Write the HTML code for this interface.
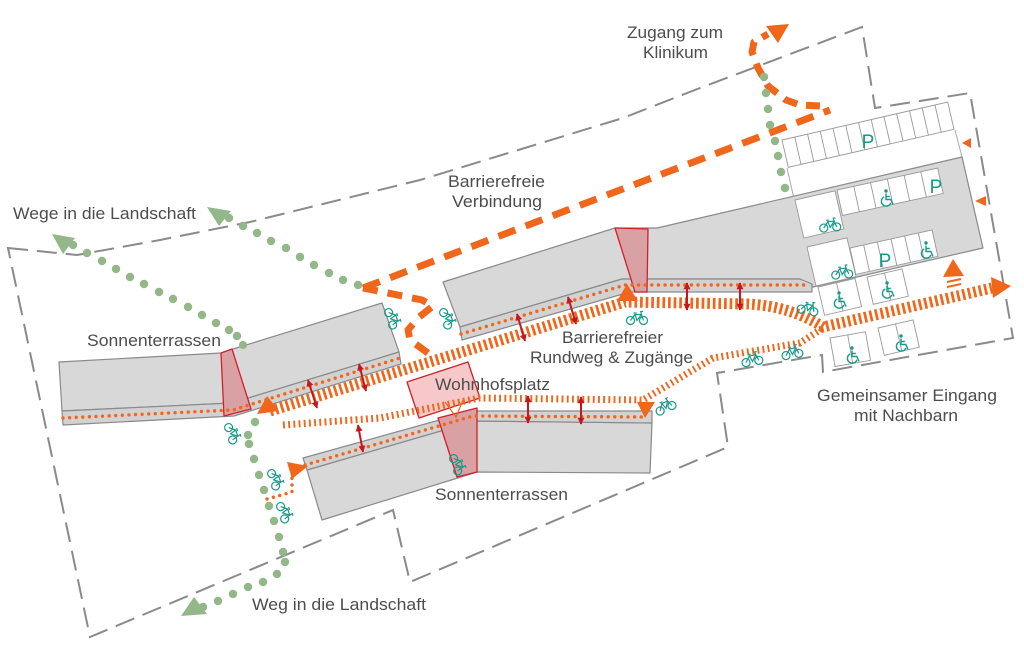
<!DOCTYPE html>
<html><head><meta charset="utf-8"><style>
html,body{margin:0;padding:0;background:#fff;}
svg{display:block;}
text{font-family:"Liberation Sans",Arial,sans-serif;}
</style></head><body>
<svg width="1024" height="667" viewBox="0 0 1024 667" xmlns="http://www.w3.org/2000/svg">
<defs>
 <g id="bike" fill="none" stroke="#16998a" stroke-width="1.2">
  <circle cx="-6.5" cy="2.5" r="4"/><circle cx="6.5" cy="2.5" r="4"/>
  <path d="M-6.5 2.5 L-2 -3.5 L4.5 -3.5 L6.5 2.5 M-2 -3.5 L0 2.5 L4.5 -3.5 M-3.5 -5 H-0.5 M4.5 -3.5 L3.8 -6.5 H6"/>
 </g>
 <g id="wc" fill="none" stroke="#16998a" stroke-width="1.4">
  <circle cx="0" cy="-7" r="1.7" fill="#16998a" stroke="none"/>
  <path d="M0 -4.5 V1.5 H4.8 L7 6.5 M0 -1.5 H3.8 M-1.8 -1 A4.8 4.8 0 1 0 4.8 4.8"/>
 </g>
 <marker id="ah" viewBox="0 0 10 10" refX="9" refY="5" markerWidth="7" markerHeight="7" markerUnits="userSpaceOnUse" orient="auto-start-reverse"><path d="M0 0 L10 5 L0 10 z" fill="#c8161d"/></marker>
</defs>
<rect width="1024" height="667" fill="#fff"/>

<!-- boundary -->
<path d="M8,248 L77,255 L160,240 L250,222 L420,180 L623,118 L700,88 L862,27 L875,108 L970,93 L1013,338 L823,372 L822,355 L717,373 L728,447 L410,582 L393,510 L90,637 Z" fill="none" stroke="#8a8a8a" stroke-width="2" stroke-dasharray="20 9"/>

<!-- lane lines -->
<path d="M787,168 L797,212 M955,130 L962,157" stroke="#aaa" stroke-width="1" fill="none"/>

<!-- buildings -->
<g fill="#d8d8d8" stroke="#8a8a8a" stroke-width="1.2" stroke-linejoin="round">
 <polygon points="59,362 221,353 233,349 382,303 399,352 232,403 62,411"/>
 <polygon points="62,411 232,403 399,352 401,364 234,416 63,425" fill="#d2d2d2"/>
 <polygon points="443,282 615,228 657,228 962,157 983,248 813,287 800,279 622,279 460,327"/>
 <polygon points="460,327 622,279 800,279 812,284 812,292 630,292 462,340" fill="#d2d2d2"/>
 <polygon points="307,470 475,421 652,423 650,473 477,472 322,520"/>
 <polygon points="303,458 472,411 652,411 652,423 475,421 307,470" fill="#d2d2d2"/>
</g>

<!-- parking -->
<g fill="#fff" stroke="#999" stroke-width="0.9">
 <g transform="translate(782,140) rotate(-12.9)">
  <rect x="0" y="0" width="170" height="28"/>
  <path d="M13.1 0V28M26.2 0V28M39.2 0V28M52.3 0V28M65.4 0V28M78.5 0V28M91.5 0V28M104.6 0V28M117.7 0V28M130.8 0V28M143.8 0V28M156.9 0V28"/>
 </g>
 <g transform="translate(837,190) rotate(-12.3)">
  <rect x="0" y="0" width="103" height="26"/>
  <path d="M17.2 0V26M34.3 0V26M51.5 0V26M68.7 0V26M85.8 0V26"/>
 </g>
 <g transform="translate(850,248) rotate(-12.4)">
  <rect x="0" y="0" width="84" height="27"/>
  <path d="M14 0V27M28 0V27M42 0V27M56 0V27M70 0V27"/>
 </g>
 <g transform="translate(795,200) rotate(-13)"><rect width="41" height="39"/></g>
 <g transform="translate(807,247) rotate(-13)"><rect width="41" height="40"/></g>
 <g transform="translate(818,287) rotate(-13)"><rect width="38" height="29"/><path d="M19 0V29"/></g>
 <g transform="translate(867,277) rotate(-13)"><rect width="36" height="28"/><path d="M18 0V28"/></g>
 <g transform="translate(830,338) rotate(-10)"><rect width="36" height="29"/><path d="M18 0V29"/></g>
 <g transform="translate(878,328) rotate(-13)"><rect width="36" height="28"/><path d="M18 0V28"/></g>
</g>
<g fill="#16998a" font-size="19">
 <text x="868" y="148" text-anchor="middle">P</text>
 <text x="936" y="193" text-anchor="middle">P</text>
 <text x="885" y="267" text-anchor="middle">P</text>
</g>
<use href="#wc" x="886" y="198"/>
<use href="#wc" x="926" y="250"/>
<use href="#wc" x="839" y="300"/>
<use href="#wc" x="887" y="290"/>
<use href="#wc" x="852" y="355"/>
<use href="#wc" x="901" y="343"/>

<!-- connectors -->
<g stroke="#d0202a" stroke-width="1.3" stroke-linejoin="round">
 <polygon points="221,353 232,349 251,409 224,416" fill="#d9a1a3"/>
 <polygon points="615,228 648,229 647,292 635,292" fill="#d9a1a3"/>
 <polygon points="407,382 468,362 480,398 419,418" fill="#f6c2c3" fill-opacity="0.9"/>
 <polygon points="438,418 477,408 477,472 457,477" fill="#d9a1a3"/>
</g>

<!-- orange small dotted lines -->
<g fill="none" stroke="#f0661a" stroke-width="3.4" stroke-linecap="round" stroke-dasharray="0 6.6">
 <path d="M63,418 L233,410 L400,358"/>
 <path d="M461,334 L625,285 L810,285"/>
 <path d="M305,465 L473,416 L645,417"/>
 <path d="M267,499 L292,492 L292,477"/>
</g>

<!-- hatched routes -->
<path d="M270,411 L625,302 L748,304 Q790,306 823,327 L992,288" fill="none" stroke="#f0661a" stroke-width="11" stroke-dasharray="2.7 2.9"/>
<path d="M283,425 L380,418 L480,398 L643,400 L713,358 L800,343 L823,328" fill="none" stroke="#f0661a" stroke-width="7" stroke-dasharray="1.9 3.3"/>

<!-- thick dashed routes -->
<g fill="none" stroke="#f0661a" stroke-width="7" stroke-linejoin="round">
 <path d="M363,288 L830,110" stroke-dasharray="18 11"/>
 <path d="M363,288 L422,300 L433,306 L418,318 L408,330 L410,340 L432,356" stroke-dasharray="15 10"/>
 <path d="M820,106 L800,105 L786,100 L768,86 L758,68 L752,52 L754,42 L768,34" stroke-dasharray="14 9"/>
</g>
<polyline points="445,402 456,417 463,400" fill="none" stroke="#f0661a" stroke-width="1.2"/>

<!-- orange arrowheads -->
<g fill="#f0661a">
 <polygon points="267,396 257,414 279,411"/>
 <polygon points="627,284 617,301 638,301"/>
 <polygon points="637,402 655,402 645,418"/>
 <polygon points="991,277 1011,286 993,298"/>
 <polygon points="953,259 943,277 964,276"/>
 <polygon points="287,462 308,466 292,479"/>
 <polygon points="962,143 971,138 971,148"/>
 <polygon points="975,201 986,196 986,206"/>
 <polygon points="766,26 789,24 778,43"/>
</g>
<path d="M947,282 L961,279 M947,287 L961,284" stroke="#f0661a" stroke-width="2"/>

<!-- red double arrows -->
<g stroke="#c8161d" stroke-width="2" marker-start="url(#ah)" marker-end="url(#ah)">
 <line x1="308" y1="380" x2="317" y2="408"/>
 <line x1="359" y1="364" x2="366" y2="391"/>
 <line x1="517" y1="314" x2="525" y2="341"/>
 <line x1="568" y1="297" x2="576" y2="324"/>
 <line x1="687" y1="283" x2="687" y2="310"/>
 <line x1="740" y1="283" x2="740" y2="310"/>
 <line x1="358" y1="425" x2="363" y2="452"/>
 <line x1="528" y1="396" x2="528" y2="423"/>
 <line x1="581" y1="397" x2="581" y2="424"/>
</g>

<!-- green dots -->
<g fill="#93b788">
 <circle cx="73" cy="245" r="4.2"/><circle cx="87" cy="253" r="4.2"/><circle cx="102" cy="261" r="4.2"/><circle cx="116" cy="269" r="4.2"/><circle cx="130" cy="277" r="4.2"/><circle cx="144" cy="284" r="4.2"/><circle cx="159" cy="292" r="4.2"/><circle cx="173" cy="299" r="4.2"/><circle cx="188" cy="307" r="4.2"/><circle cx="202" cy="315" r="4.2"/><circle cx="216" cy="323" r="4.2"/><circle cx="229" cy="330" r="4.2"/><circle cx="237" cy="336" r="4.2"/><circle cx="243" cy="345" r="4"/>
 <circle cx="229" cy="218" r="4.2"/><circle cx="243" cy="226" r="4.2"/><circle cx="257" cy="233" r="4.2"/><circle cx="271" cy="241" r="4.2"/><circle cx="286" cy="248" r="4.2"/><circle cx="300" cy="257" r="4.2"/><circle cx="314" cy="265" r="4.2"/><circle cx="329" cy="273" r="4.2"/><circle cx="343" cy="280" r="4.2"/><circle cx="358" cy="285" r="4.2"/>
 <circle cx="764" cy="77" r="4.2"/><circle cx="766" cy="93" r="4.2"/><circle cx="768" cy="109" r="4.2"/><circle cx="770" cy="125" r="4.2"/><circle cx="775" cy="141" r="4.2"/><circle cx="778" cy="156" r="4.2"/><circle cx="781" cy="172" r="4.2"/><circle cx="785" cy="188" r="4.2"/>
 <circle cx="255" cy="422" r="4.2"/><circle cx="248" cy="435" r="4.2"/><circle cx="249" cy="444" r="4.2"/><circle cx="254" cy="459" r="4.2"/><circle cx="259" cy="475" r="4.2"/><circle cx="264" cy="490" r="4.2"/><circle cx="269" cy="506" r="4.2"/><circle cx="274" cy="521" r="4.2"/><circle cx="279" cy="537" r="4.2"/><circle cx="283" cy="552" r="4.2"/><circle cx="285" cy="562" r="4.2"/><circle cx="277" cy="574" r="4.2"/><circle cx="263" cy="582" r="4.2"/><circle cx="248" cy="587" r="4.2"/><circle cx="233" cy="594" r="4.2"/><circle cx="218" cy="601" r="4.2"/><circle cx="203" cy="607" r="4.2"/>
 <polygon points="52,234 75,238 63,254"/>
 <polygon points="207,207 231,211 219,226"/>
 <polygon points="181,616 194,597 207,614"/>
</g>

<!-- bikes -->
<use href="#bike" transform="translate(393,318) rotate(72)"/>
<use href="#bike" transform="translate(448,318) rotate(72)"/>
<use href="#bike" transform="translate(233,433) rotate(72)"/>
<use href="#bike" transform="translate(276,479) rotate(72)"/>
<use href="#bike" transform="translate(285,512) rotate(72)"/>
<use href="#bike" transform="translate(458,464) rotate(72)"/>
<use href="#bike" transform="translate(637,318)"/>
<use href="#bike" transform="translate(665,406) rotate(-25)"/>
<use href="#bike" transform="translate(752,359) rotate(-10)"/>
<use href="#bike" transform="translate(792,352) rotate(-10)"/>
<use href="#bike" transform="translate(808,308) rotate(12)"/>
<use href="#bike" transform="translate(830,225) rotate(-5)"/>
<use href="#bike" transform="translate(842,272) rotate(-5)"/>

<!-- labels -->
<g fill="#4d4d4d" font-size="17">
 <text x="627" y="38" textLength="96" lengthAdjust="spacingAndGlyphs">Zugang zum</text>
 <text x="643" y="58" textLength="65" lengthAdjust="spacingAndGlyphs">Klinikum</text>
 <text x="448" y="187" textLength="97" lengthAdjust="spacingAndGlyphs">Barrierefreie</text>
 <text x="452" y="207" textLength="90" lengthAdjust="spacingAndGlyphs">Verbindung</text>
 <text x="13" y="219" textLength="183" lengthAdjust="spacingAndGlyphs">Wege in die Landschaft</text>
 <text x="87" y="346" textLength="134" lengthAdjust="spacingAndGlyphs">Sonnenterrassen</text>
 <text x="435" y="390" textLength="115" lengthAdjust="spacingAndGlyphs">Wohnhofsplatz</text>
 <text x="562" y="343" textLength="101" lengthAdjust="spacingAndGlyphs">Barrierefreier</text>
 <text x="530" y="363" textLength="163" lengthAdjust="spacingAndGlyphs">Rundweg &amp; Zugänge</text>
 <text x="817" y="401" textLength="180" lengthAdjust="spacingAndGlyphs">Gemeinsamer Eingang</text>
 <text x="854" y="421" textLength="104" lengthAdjust="spacingAndGlyphs">mit Nachbarn</text>
 <text x="435" y="500" textLength="133" lengthAdjust="spacingAndGlyphs">Sonnenterrassen</text>
 <text x="252" y="610" textLength="174" lengthAdjust="spacingAndGlyphs">Weg in die Landschaft</text>
</g>
</svg>
</body></html>
